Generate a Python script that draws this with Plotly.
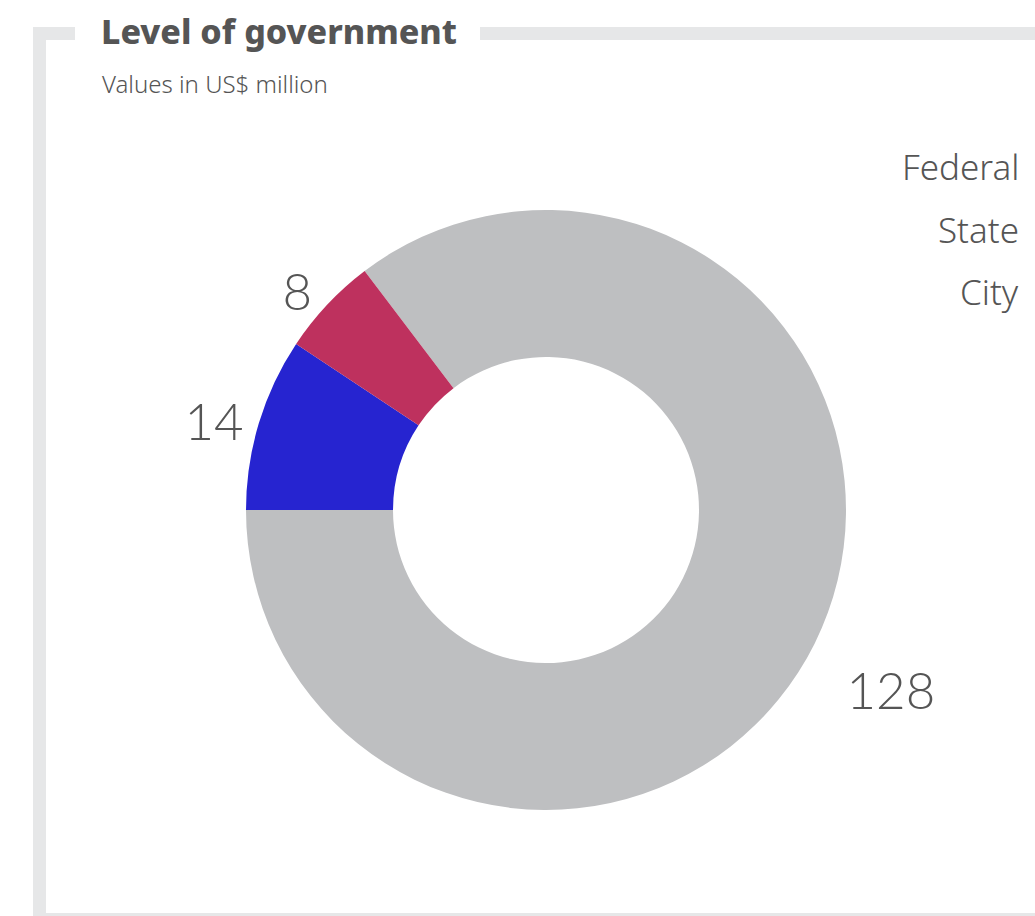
import plotly.graph_objects as go

# Spending by level of government (US$ million)
levels = ["Federal", "State", "City"]
amounts = [128, 14, 8]
slice_colors = ["#bebfc1", "#2624d0", "#be315e"]

W, H = 1035, 916
TEXT = "#555555"
FRAME = "#e6e7e8"

def px_x(v):
    return v / W

def px_y(v):
    return 1 - v / H

# Start angle chosen so the small slices sit at the upper left
start_angle = 270 - 360 * amounts[0] / sum(amounts) + 360

# the large label is dropped one line lower than the slice midpoint
label_templates = ["\u00a0<br>%{value}", "%{value}", "%{value}"]

fig = go.Figure(
    go.Pie(
        labels=levels,
        values=amounts,
        sort=False,
        direction="clockwise",
        rotation=start_angle,
        hole=0.51,
        marker=dict(colors=slice_colors, line=dict(width=0)),
        texttemplate=label_templates,
        textposition="outside",
        outsidetextfont=dict(family="Lato", size=51, color=TEXT, weight=300),
        hoverinfo="label+value",
        showlegend=False,
        domain=dict(x=[px_x(246), px_x(846)], y=[px_y(810), px_y(210)]),
    )
)

shapes = [
    # left rail of the frame
    dict(type="rect", x0=px_x(33), x1=px_x(46), y0=px_y(916), y1=px_y(27)),
    # top rail, broken around the title
    dict(type="rect", x0=px_x(33), x1=px_x(75), y0=px_y(40), y1=px_y(27)),
    dict(type="rect", x0=px_x(480), x1=1, y0=px_y(40), y1=px_y(27)),
    # bottom rule
    dict(type="rect", x0=px_x(33), x1=1, y0=px_y(916), y1=px_y(913)),
]
for s in shapes:
    s.update(xref="paper", yref="paper", fillcolor=FRAME, line=dict(width=0), layer="below")

annotations = [
    dict(text="Level of government", x=px_x(99), y=px_y(56), xanchor="left", yanchor="bottom",
         font=dict(family="Noto Sans", size=34, color=TEXT, weight=800)),
    dict(text="Values in US$ million", x=px_x(100), y=px_y(102), xanchor="left", yanchor="bottom",
         font=dict(family="Noto Sans", size=24, color=TEXT, weight=300)),
]
# legend-style labels, right aligned
for i, name in enumerate(levels):
    annotations.append(
        dict(text=name, x=px_x(1021), y=px_y(166 + 63 * i), xanchor="right", yanchor="middle",
             font=dict(family="Noto Sans", size=35, color=TEXT, weight=300))
    )
for a in annotations:
    a.update(xref="paper", yref="paper", showarrow=False)

fig.update_layout(
    width=W,
    height=H,
    margin=dict(l=0, r=0, t=0, b=0),
    paper_bgcolor="white",
    plot_bgcolor="white",
    shapes=shapes,
    annotations=annotations,
)

fig.write_html("out.html")
